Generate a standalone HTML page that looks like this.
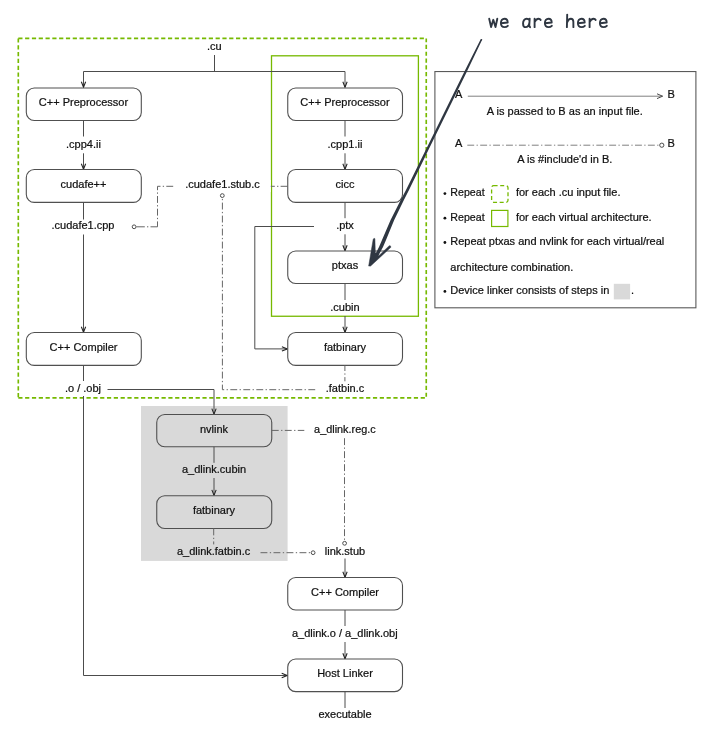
<!DOCTYPE html>
<html><head><meta charset="utf-8"><title>CUDA compilation trajectory</title>
<style>
html,body{margin:0;padding:0;background:#fff;}
body{width:714px;height:734px;overflow:hidden;}
svg{display:block;will-change:transform;}
text{font-family:"Liberation Sans",sans-serif;font-size:11px;fill:#111;stroke:#111;stroke-width:0.22px;}
.c{text-anchor:middle;}
.ln{stroke:#4c4c4c;stroke-width:1;fill:none;}
.dd{stroke:#666;stroke-width:1;fill:none;stroke-dasharray:6.9 2.4 1.3 2.4;}
.bx{stroke:#505050;stroke-width:1.1;fill:#fff;}
.bxg{stroke:#505050;stroke-width:1.1;fill:#d9d9d9;}
.ah{stroke:#222;stroke-width:1.05;fill:none;stroke-linejoin:miter;}
.ci{stroke:#4c4c4c;stroke-width:1;fill:#fff;}
</style></head><body>
<svg width="714" height="734" viewBox="0 0 714 734">

<rect x="141" y="406" width="146.6" height="154.9" fill="#d9d9d9"/>
<path d="M18.3 38.4 H426.25" fill="none" stroke="#76b900" stroke-width="1.65" stroke-dasharray="4.2 2.603" stroke-dashoffset="0"/>
<path d="M426.25 38.4 V397.8" fill="none" stroke="#76b900" stroke-width="1.65" stroke-dasharray="4.2 2.62" stroke-dashoffset="0.4"/>
<path d="M18.3 38.4 V397.8" fill="none" stroke="#76b900" stroke-width="1.65" stroke-dasharray="4.2 2.62" stroke-dashoffset="0"/>
<path d="M18.3 397.8 H426.25" fill="none" stroke="#76b900" stroke-width="1.65" stroke-dasharray="4.2 2.62" stroke-dashoffset="0"/>
<rect x="271.5" y="55.8" width="146.9" height="260.45" fill="none" stroke="#76b900" stroke-width="1.3"/>
<text class="c" x="214.30" y="49.70">.cu</text>
<path class="ln" d="M214.5 55 V71.5 M83.5 87 V71.5 H345.0 V87"/>
<path class="ah" d="M81.35 81.70 L83.50 87.20 L85.65 81.70"/>
<path class="ah" d="M342.85 81.70 L345.00 87.20 L347.15 81.70"/>
<rect class="bx" x="26.30" y="88.00" width="115" height="32.45" rx="8" ry="8"/>
<text class="c" x="83.50" y="106.22">C++ Preprocessor</text>
<path class="ln" d="M83.5 120.45 V136.5"/>
<text class="c" x="83.50" y="147.70">.cpp4.ii</text>
<path class="ln" d="M83.5 153.3 V169.5"/>
<path class="ah" d="M81.35 163.70 L83.50 169.20 L85.65 163.70"/>
<rect class="bx" x="26.30" y="169.50" width="115" height="32.90" rx="8" ry="8"/>
<text class="c" x="83.50" y="187.95">cudafe++</text>
<path class="ln" d="M83.5 202.4 V219.5"/>
<text class="c" x="83.00" y="228.90">.cudafe1.cpp</text>
<path class="ln" d="M83.5 234.5 V332.5"/>
<path class="ah" d="M81.35 326.70 L83.50 332.20 L85.65 326.70"/>
<rect class="bx" x="26.30" y="332.50" width="115" height="32.90" rx="8" ry="8"/>
<text class="c" x="83.50" y="350.95">C++ Compiler</text>
<path class="ln" d="M83.5 365.4 V381"/>
<text class="c" x="83.00" y="391.80">.o / .obj</text>
<path class="ln" d="M83.5 396 V675.5 H287"/>
<path class="ah" d="M281.70 673.35 L287.20 675.50 L281.70 677.65"/>
<path class="ln" d="M107.5 389.5 H214.0 V414.45"/>
<path class="ah" d="M211.85 408.65 L214.00 414.15 L216.15 408.65"/>
<path class="dd" style="stroke-dasharray:6.9 2.25 1.3 2.25" d="M287.5 186.3 H157.5 V226.8"/>
<path class="dd" style="stroke-dasharray:8.4 2.2 1.3 2.2 8" d="M136.4 226.8 H157.5"/>
<rect x="174.3" y="180" width="96.5" height="12" fill="#fff"/>
<circle class="ci" cx="134.10" cy="226.80" r="1.9"/>
<text class="c" x="222.50" y="187.80">.cudafe1.stub.c</text>
<path class="dd" d="M315.2 389.7 H222.4 V197.6"/>
<circle class="ci" cx="222.30" cy="195.60" r="1.9"/>
<rect class="bx" x="287.75" y="88.00" width="114.75" height="32.45" rx="8" ry="8"/>
<text class="c" x="345.00" y="106.22">C++ Preprocessor</text>
<path class="ln" d="M345.0 120.45 V136.5"/>
<text class="c" x="345.00" y="147.70">.cpp1.ii</text>
<path class="ln" d="M345.0 153.3 V169.5"/>
<path class="ah" d="M342.85 163.70 L345.00 169.20 L347.15 163.70"/>
<rect class="bx" x="287.75" y="169.50" width="114.75" height="32.90" rx="8" ry="8"/>
<text class="c" x="345.00" y="187.95">cicc</text>
<path class="ln" d="M345.0 202.4 V218.2"/>
<text class="c" x="345.00" y="228.70">.ptx</text>
<path class="ln" d="M345.0 234.3 V251.0"/>
<path class="ah" d="M342.85 245.20 L345.00 250.70 L347.15 245.20"/>
<path class="ln" d="M314 226.5 H254.8 V348.9 H287"/>
<path class="ah" d="M281.90 346.75 L287.40 348.90 L281.90 351.05"/>
<rect class="bx" x="287.75" y="251.00" width="114.75" height="32.50" rx="8" ry="8"/>
<text class="c" x="345.00" y="269.25">ptxas</text>
<path class="ln" d="M345.0 283.5 V300"/>
<text class="c" x="345.00" y="310.70">.cubin</text>
<path class="ln" d="M345.0 316 V332.5"/>
<path class="ah" d="M342.85 326.70 L345.00 332.20 L347.15 326.70"/>
<rect class="bx" x="287.75" y="332.50" width="114.75" height="32.90" rx="8" ry="8"/>
<text class="c" x="345.00" y="350.95">fatbinary</text>
<path class="dd" style="stroke-dashoffset:1.3" d="M344.9 365.4 V381.3"/>
<text class="c" x="345.00" y="391.60">.fatbin.c</text>
<rect class="bxg" x="156.75" y="414.45" width="115" height="32.35" rx="8" ry="8"/>
<text class="c" x="214.00" y="432.62">nvlink</text>
<path class="ln" d="M214.0 446.8 V462.8"/>
<text class="c" x="214.00" y="472.90">a_dlink.cubin</text>
<path class="ln" d="M214.0 478 V495.7"/>
<path class="ah" d="M211.85 489.90 L214.00 495.40 L216.15 489.90"/>
<rect class="bxg" x="156.75" y="495.70" width="115" height="32.75" rx="8" ry="8"/>
<text class="c" x="214.00" y="514.08">fatbinary</text>
<path class="dd" d="M213.7 528.45 V544.4"/>
<text class="c" x="213.60" y="555.10">a_dlink.fatbin.c</text>
<path class="dd" d="M271.8 430.4 H304.3"/>
<text class="c" x="344.9" y="433.3" textLength="61.6" lengthAdjust="spacingAndGlyphs">a_dlink.reg.c</text>
<path class="dd" d="M344.5 438.2 V541.5"/>
<circle class="ci" cx="344.60" cy="543.30" r="1.9"/>
<path class="dd" d="M260.5 552.7 H311"/>
<circle class="ci" cx="313.10" cy="552.70" r="1.9"/>
<text class="c" x="345.00" y="555.10">link.stub</text>
<path class="ln" d="M345.0 558.5 V577.5"/>
<path class="ah" d="M342.85 571.70 L345.00 577.20 L347.15 571.70"/>
<rect class="bx" x="287.75" y="577.50" width="114.75" height="32.50" rx="8" ry="8"/>
<text class="c" x="345.00" y="595.75">C++ Compiler</text>
<path class="ln" d="M345.0 610.0 V626"/>
<text class="c" x="344.80" y="636.50">a_dlink.o / a_dlink.obj</text>
<path class="ln" d="M345.0 642 V659.0"/>
<path class="ah" d="M342.85 653.20 L345.00 658.70 L347.15 653.20"/>
<rect class="bx" x="287.75" y="659.00" width="114.75" height="32.60" rx="8" ry="8"/>
<text class="c" x="345.00" y="677.30">Host Linker</text>
<path class="ln" d="M345.0 691.6 V708"/>
<text class="c" x="345.00" y="718.00">executable</text>
<rect x="434.9" y="71.55" width="261.0" height="236.25" fill="#fff" stroke="#5a5a5a" stroke-width="1.1"/>
<text class="s" x="455.00" y="98.00">A</text>
<text class="s" x="667.40" y="98.00">B</text>
<path d="M467.8 96.2 H662.5" stroke="#808080" stroke-width="1" fill="none"/>
<path d="M657 93.8 L662.6 96.2 L657 98.6" stroke="#4c4c4c" stroke-width="1" fill="none"/>
<text class="c" x="564.80" y="114.50">A is passed to B as an input file.</text>
<text class="s" x="455.00" y="146.80">A</text>
<text class="s" x="667.40" y="146.80">B</text>
<path d="M467.3 145.2 H659.6" stroke="#808080" stroke-width="1" fill="none" stroke-dasharray="6.9 2.35 1.3 2.35"/>
<circle class="ci" cx="661.80" cy="145.20" r="2.1"/>
<text class="c" x="564.80" y="162.60">A is #include'd in B.</text>
<circle cx="444.9" cy="193.60" r="1.4" fill="#111"/>
<text x="450.3" y="195.9" textLength="34.3" lengthAdjust="spacingAndGlyphs">Repeat</text>
<rect x="491.6" y="185.7" width="16.4" height="16.6" rx="2" ry="2" fill="none" stroke="#76b900" stroke-width="1.3" stroke-dasharray="4 2.6"/>
<text class="s" x="515.90" y="195.90">for each .cu input file.</text>
<circle cx="444.9" cy="218.20" r="1.4" fill="#111"/>
<text x="450.3" y="220.5" textLength="34.3" lengthAdjust="spacingAndGlyphs">Repeat</text>
<rect x="491.6" y="210.4" width="16.3" height="16.1" fill="none" stroke="#76b900" stroke-width="1.2"/>
<text class="s" x="515.90" y="220.50">for each virtual architecture.</text>
<circle cx="444.9" cy="242.50" r="1.4" fill="#111"/>
<text class="s" x="450.30" y="244.80">Repeat ptxas and nvlink for each virtual/real</text>
<text class="s" x="450.30" y="270.50">architecture combination.</text>
<circle cx="444.9" cy="291.40" r="1.4" fill="#111"/>
<text class="s" x="450.30" y="293.70">Device linker consists of steps in</text>
<rect x="613.8" y="283.8" width="16.3" height="15.6" fill="#d9d9d9"/>
<text class="s" x="631.00" y="293.70">.</text>
<g stroke="#2f3742" stroke-width="1.9" fill="none" stroke-linecap="round" stroke-linejoin="round">
<path transform="translate(488.00 0)" d="M1.2 18.8 L3.1 27.1 L5.3 19.8 L7.5 27.1 L9.3 18.7"/>
<path transform="translate(499.00 0)" d="M2.0 23.25 L8.7 22.5 C8.7 20.3 7.4 18.75 5.5 18.75 C3.3 18.75 1.9 20.6 1.9 23.0 C1.9 25.5 3.3 27.15 5.6 27.15 C6.9 27.15 8.0 26.7 8.8 25.8"/>
<path transform="translate(521.00 0)" d="M8.5 20.3 C7.8 19.3 6.8 18.75 5.7 18.75 C3.5 18.75 2.05 20.9 2.05 23.4 C2.05 25.6 3.0 27.15 4.7 27.15 C6.4 27.15 7.9 25.3 8.4 22.6 M8.7 18.8 L8.3 24.8 C8.25 26.2 8.6 26.9 9.1 27.15"/>
<path transform="translate(532.00 0)" d="M2.6 18.8 L2.6 27.15 M2.6 22.2 C3.5 20.2 5.0 18.75 6.6 18.75 C7.6 18.75 8.3 19.2 8.7 20.0"/>
<path transform="translate(543.00 0)" d="M2.0 23.25 L8.7 22.5 C8.7 20.3 7.4 18.75 5.5 18.75 C3.3 18.75 1.9 20.6 1.9 23.0 C1.9 25.5 3.3 27.15 5.6 27.15 C6.9 27.15 8.0 26.7 8.8 25.8"/>
<path transform="translate(565.00 0)" d="M2.2 14.6 L1.9 27.15 M2.0 22.6 C2.9 20.3 4.3 18.75 5.9 18.75 C7.6 18.75 8.3 19.9 8.35 21.8 L8.4 27.15"/>
<path transform="translate(576.00 0)" d="M2.0 23.25 L8.7 22.5 C8.7 20.3 7.4 18.75 5.5 18.75 C3.3 18.75 1.9 20.6 1.9 23.0 C1.9 25.5 3.3 27.15 5.6 27.15 C6.9 27.15 8.0 26.7 8.8 25.8"/>
<path transform="translate(587.00 0)" d="M2.6 18.8 L2.6 27.15 M2.6 22.2 C3.5 20.2 5.0 18.75 6.6 18.75 C7.6 18.75 8.3 19.2 8.7 20.0"/>
<path transform="translate(598.00 0)" d="M2.0 23.25 L8.7 22.5 C8.7 20.3 7.4 18.75 5.5 18.75 C3.3 18.75 1.9 20.6 1.9 23.0 C1.9 25.5 3.3 27.15 5.6 27.15 C6.9 27.15 8.0 26.7 8.8 25.8"/>
</g>
<polygon fill="#2f3742" points="480.55,39.60 464.20,72.00 425.70,150.00 406.00,190.00 400.70,200.00 390.60,220.00 382.00,240.00 379.00,247.00 375.70,253.60 373.60,259.00 377.00,259.00 379.50,253.60 383.00,247.00 386.00,240.00 394.20,220.00 403.90,200.00 409.00,190.00 428.40,150.00 466.70,72.00 482.25,39.60"/>
<circle cx="481.4" cy="39.8" r="0.8" fill="#2f3742"/>
<polygon fill="#2f3742" stroke="#2f3742" stroke-width="0.5" stroke-linejoin="round" points="368.66,266.05 373.20,239.16 374.10,238.30 374.90,238.66 375.30,252.60 378.60,255.90 389.33,245.63 390.50,245.90 390.84,247.31 370.59,266.05"/>
</svg></body></html>
